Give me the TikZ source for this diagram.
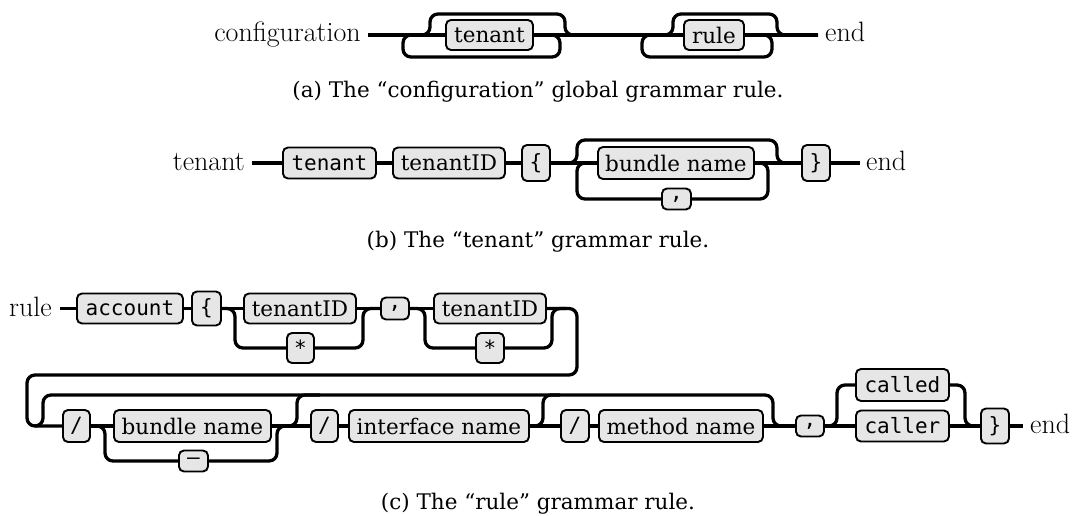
\documentclass[tikz,border=0pt]{standalone}
\usepackage{fontspec}
\newfontfamily\djserif{DejaVu Serif}
\newfontfamily\djmono{DejaVu Sans Mono}
\definecolor{boxgray}{HTML}{E6E6E6}
\tikzset{
  rr/.style={line width=3.3pt, rounded corners=8pt},
  box/.style={draw, line width=1.9pt, rounded corners=5pt, fill=boxgray, inner sep=0pt, anchor=west},
  nt/.style={box, font=\djserif\fontsize{21.5}{25}\selectfont},
  tm/.style={box, font=\djmono\fontsize{21}{25}\selectfont},
  lbl/.style={font=\fontsize{28}{32}\selectfont, inner sep=0pt},
  captxt/.style={font=\djserif\fontsize{21.5}{25}\selectfont, inner sep=0pt, anchor=base},
}
\begin{document}
\begin{tikzpicture}[x=1pt,y=-1pt]
\useasboundingbox (0,0) rectangle (1076,516);
% ---------------- (a)
\node[lbl, anchor=base east] (cfg) at (361,42) {configuration};
\coordinate (a0) at (368,35);
\node[nt, minimum width=87pt, minimum height=30pt] (aT) at (445,35) {tenant};
\node[nt, minimum width=60pt, minimum height=30pt] (aR) at (683,35) {rule};
\coordinate (a9) at (818,35);
\node[lbl, anchor=base west] (aend) at (825,42) {end};
\draw[rr] (a0) -- (aT.west);
\draw[rr] (aT.east) -- (aR.west);
\draw[rr] (aR.east) -- (a9);
\draw[rr] (a0) -- (430,35) -- (430,14) -- (565,14) -- (565,35) -- (aR.west);
\draw[rr] (aT.east) -- (560,35) -- (560,57) -- (403,57) -- (403,35) -- (aT.west);
\draw[rr] (aT.east) -- (673,35) -- (673,14) -- (777,14) -- (777,35) -- (a9);
\draw[rr] (aR.east) -- (772,35) -- (772,57) -- (642,57) -- (642,35) -- (aR.west);
\node[captxt] (capa) at (538,98) {(a) The “configuration” global grammar rule.};
% ---------------- (b)
\node[lbl, anchor=base east] (bl) at (245,170) {tenant};
\coordinate (b0) at (252,163);
\node[tm, minimum width=93pt, minimum height=31pt] (bT) at (282,163) {tenant};
\node[nt, minimum width=112pt, minimum height=31pt] (bID) at (392,163) {tenantID};
\node[tm, minimum width=28pt, minimum height=36pt] (bLB) at (521,163) {\{};
\node[nt, minimum width=156pt, minimum height=32pt] (bBN) at (597,163) {bundle name};
\node[tm, minimum width=29pt, minimum height=21pt] (bC) at (661,199) {,};
\node[tm, minimum width=28pt, minimum height=36pt] (bRB) at (801,163) {\}};
\coordinate (b9) at (860,163);
\node[lbl, anchor=base west] (bend) at (866,170) {end};
\draw[rr] (b0) -- (bT.west);
\draw[rr] (bT.east) -- (bID.west);
\draw[rr] (bID.east) -- (bLB.west);
\draw[rr] (bLB.east) -- (bBN.west);
\draw[rr] (bBN.east) -- (bRB.west);
\draw[rr] (bRB.east) -- (b9);
\draw[rr] (bLB.east) -- (577,163) -- (577,140) -- (777,140) -- (777,163) -- (bRB.west);
\draw[rr] (bBN.east) -- (768,163) -- (768,199) -- (bC.east);
\draw[rr] (bC.west) -- (577,199) -- (577,163) -- (bBN.west);
\node[captxt] (capb) at (538,247) {(b) The “tenant” grammar rule.};
% ---------------- (c) row 1
\node[lbl, anchor=base east] (cl) at (52,316) {rule};
\coordinate (c0) at (60,308.5);
\node[tm, minimum width=106pt, minimum height=30pt] (cAcc) at (76,308.5) {account};
\node[tm, minimum width=29pt, minimum height=34pt] (cLB) at (191,308.5) {\{};
\node[nt, minimum width=112pt, minimum height=30pt] (c1ID) at (243,308.5) {tenantID};
\node[tm, minimum width=27pt, minimum height=30pt] (c1S) at (286,348) {*};
\node[tm, minimum width=28pt, minimum height=22pt] (cC1) at (380,308.5) {,};
\node[nt, minimum width=112pt, minimum height=30pt] (c2ID) at (433,308.5) {tenantID};
\node[tm, minimum width=28pt, minimum height=30pt] (c2S) at (475,348) {*};
\coordinate (cw1) at (566,308.5);
\draw[rr] (c0) -- (cAcc.west);
\draw[rr] (cAcc.east) -- (cLB.west);
\draw[rr] (cLB.east) -- (c1ID.west);
\draw[rr] (cLB.east) -- (235,308.5) -- (235,348) -- (c1S.west);
\draw[rr] (c1S.east) -- (363,348) -- (363,308.5) -- (cC1.west);
\draw[rr] (c1ID.east) -- (cC1.west);
\draw[rr] (cC1.east) -- (c2ID.west);
\draw[rr] (cC1.east) -- (425,308.5) -- (425,348) -- (c2S.west);
\draw[rr] (c2S.east) -- (552,348) -- (552,308.5) -- (cw1);
% ---------------- (c) row 2
\node[tm, minimum width=27pt, minimum height=32pt] (s1) at (62,426) {/};
\node[nt, minimum width=157pt, minimum height=32pt] (bn2) at (113,426) {bundle name};
\node[tm, minimum width=29pt, minimum height=21pt] (dash) at (178,461) {—};
\node[tm, minimum width=27pt, minimum height=32pt] (s2) at (310,426) {/};
\node[nt, minimum width=180pt, minimum height=32pt] (iface) at (348,426) {interface name};
\node[tm, minimum width=28pt, minimum height=32pt] (s3) at (560,426) {/};
\node[nt, minimum width=164pt, minimum height=32pt] (meth) at (598,426) {method name};
\node[tm, minimum width=28pt, minimum height=21pt] (cC2) at (795,426) {,};
\node[tm, minimum width=93pt, minimum height=32pt] (called) at (855,385) {called};
\node[tm, minimum width=93pt, minimum height=31pt] (caller) at (855,426) {caller};
\node[tm, minimum width=28pt, minimum height=35pt] (cRB) at (980,426) {\}};
\coordinate (c9) at (1023,426);
\node[lbl, anchor=base west] (cend) at (1030,433) {end};
\coordinate (r2a) at (35,426);
\coordinate (j1) at (283,426);
\coordinate (j1e) at (320,395);
\coordinate (j2) at (530,426);
\coordinate (j2e) at (560,395);
\draw[rr] (c2ID.east) -- (577,308.5) -- (577,375) -- (27,375) -- (27,426) -- (s1.west);
\draw[rr] (r2a) -- (43,426) -- (43,395) -- (773,395) -- (773,426) -- (cC2.west);
\draw[rr] (s1.east) -- (bn2.west);
\draw[rr] (s1.east) -- (105,426) -- (105,461) -- (dash.west);
\draw[rr] (dash.east) -- (277,461) -- (277,426) -- (s2.west);
\draw[rr] (bn2.east) -- (s2.west);
\draw[rr] (j1) -- (297,426) -- (297,395) -- (j1e);
\draw[rr] (s2.east) -- (iface.west);
\draw[rr] (iface.east) -- (s3.west);
\draw[rr] (j2) -- (543,426) -- (543,395) -- (j2e);
\draw[rr] (s3.east) -- (meth.west);
\draw[rr] (meth.east) -- (cC2.west);
\draw[rr] (cC2.east) -- (caller.west);
\draw[rr] (cC2.east) -- (837,426) -- (837,385) -- (called.west);
\draw[rr] (called.east) -- (965,385) -- (965,426) -- (cRB.west);
\draw[rr] (caller.east) -- (cRB.west);
\draw[rr] (cRB.east) -- (c9);
\node[captxt] (capc) at (538,509) {(c) The “rule” grammar rule.};
\end{tikzpicture}
\end{document}
